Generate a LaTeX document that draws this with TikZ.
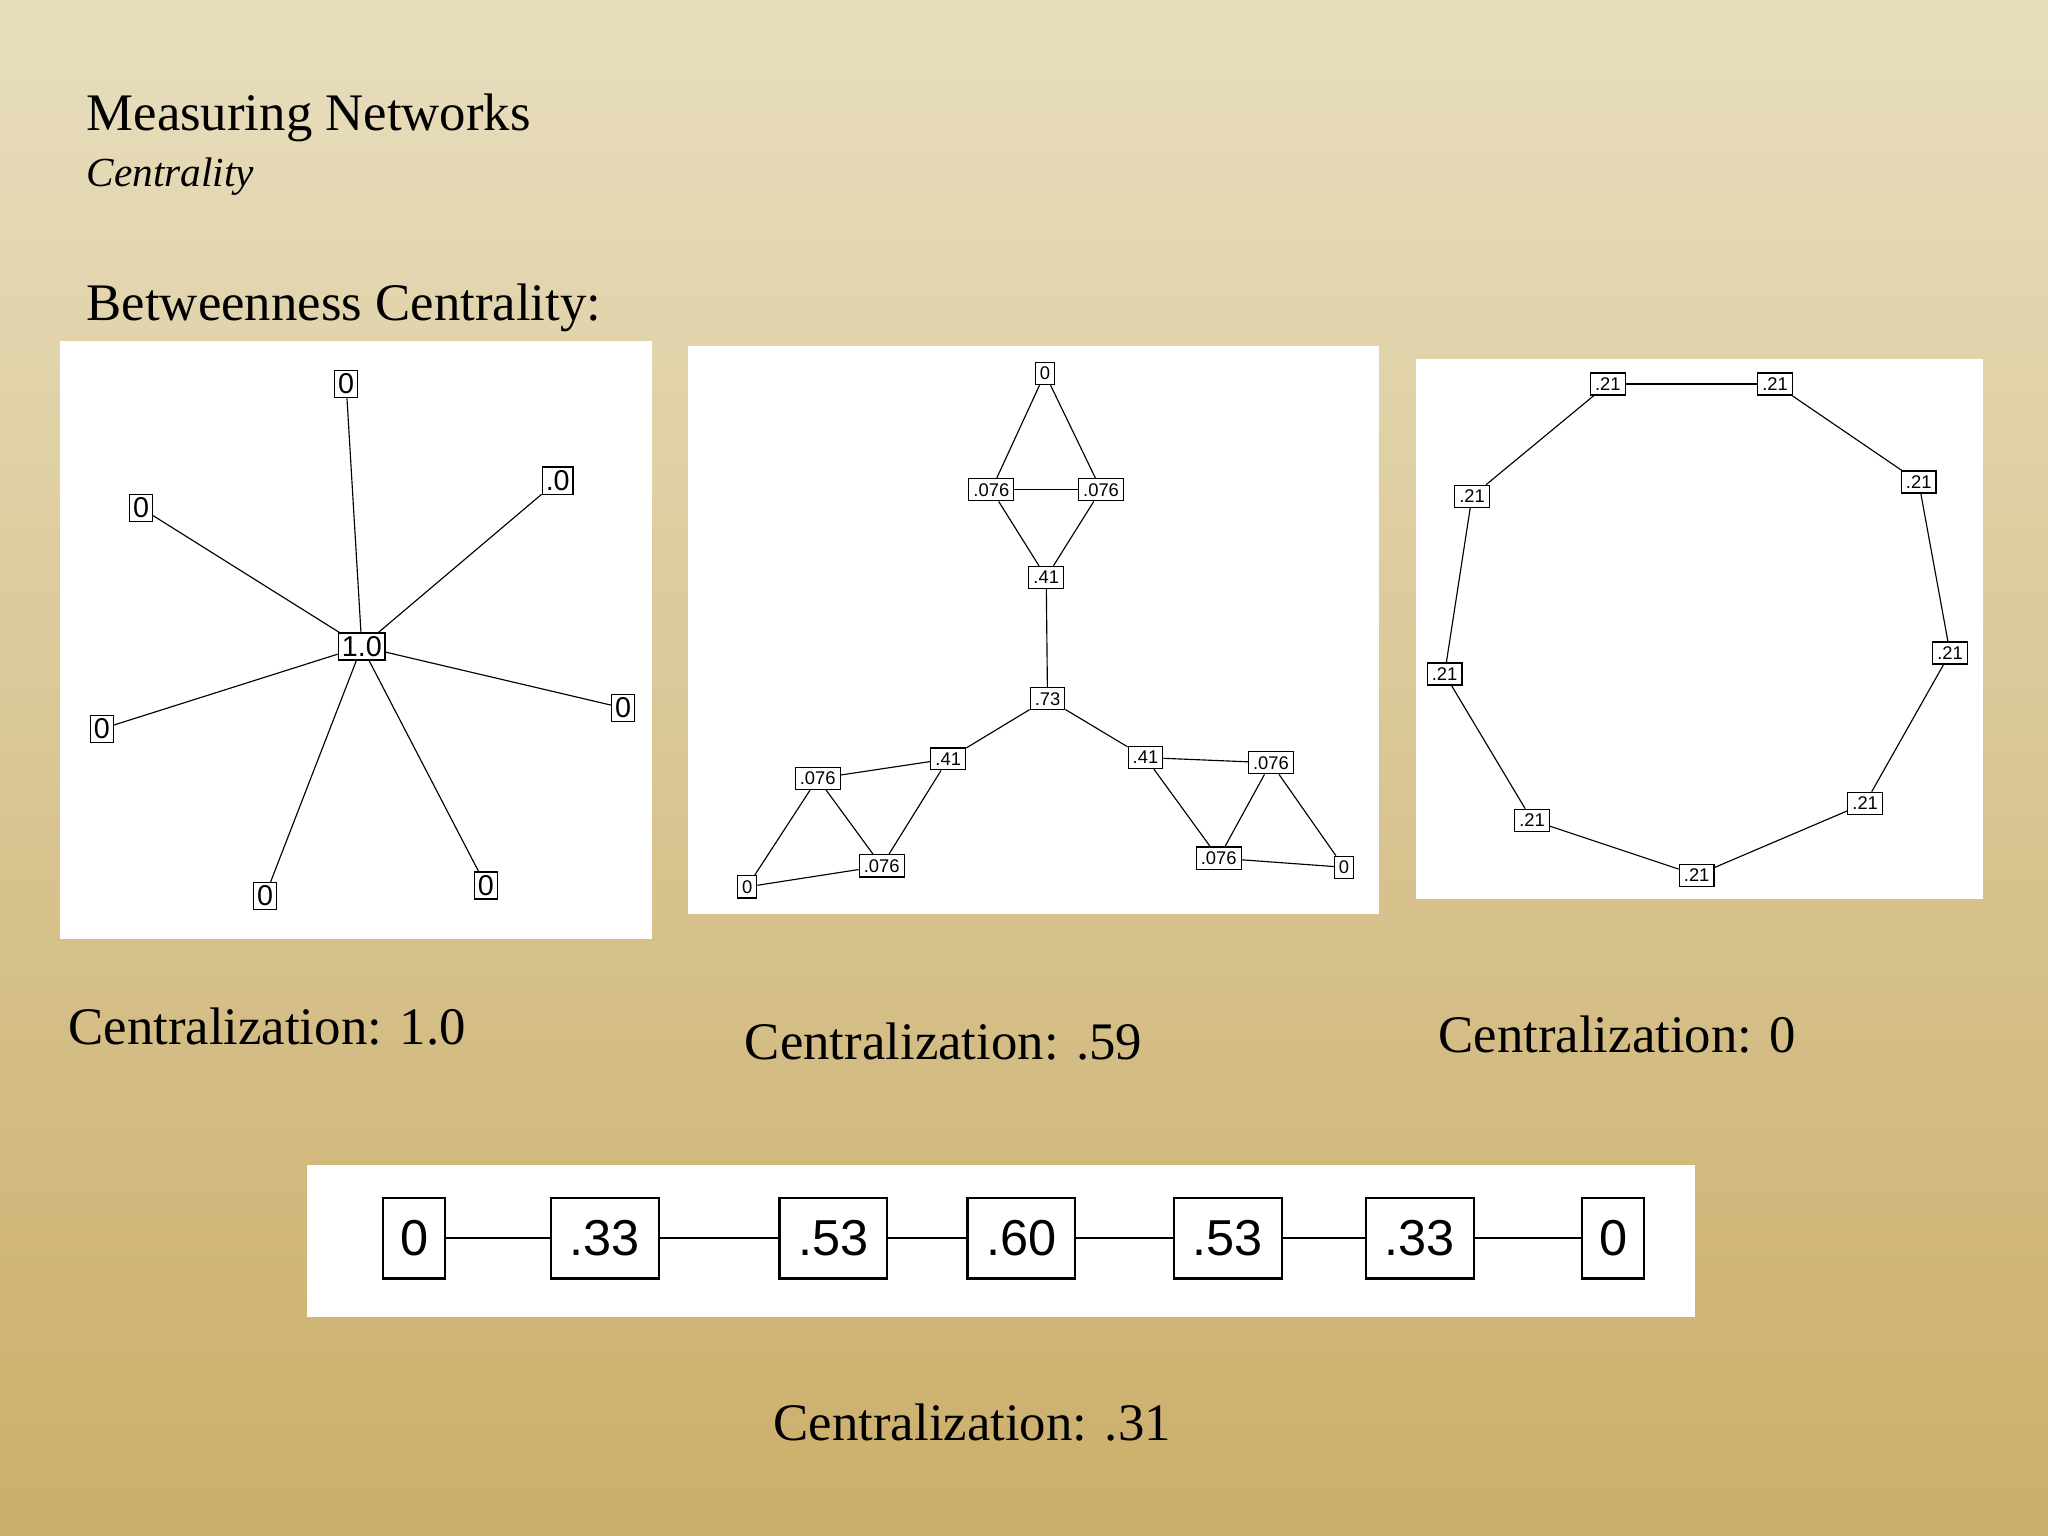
\documentclass[tikz,border=0pt]{standalone}
\usepackage{fontspec}
\setmainfont{Liberation Serif}
\newfontfamily\nodefont{Liberation Sans}
\begin{document}
\begin{tikzpicture}[x=0.02cm,y=-0.02cm,
  panel/.style={fill=white,draw=none},
  s/.style={draw,fill=white,inner sep=1.5pt,font=\nodefont\fontsize{12.5}{13}\selectfont,line width=0.6pt},
  m/.style={draw,fill=white,inner sep=2pt,font=\nodefont\fontsize{8}{9}\selectfont,line width=0.5pt},
  b/.style={draw,fill=white,minimum height=35pt,inner sep=3pt,font=\nodefont\fontsize{22}{24}\selectfont,line width=1pt},
  e/.style={line width=0.5pt},
  big/.style={font=\fontsize{23}{26}\selectfont,anchor=base west,inner sep=0pt}]
\shade[top color={rgb,255:red,232;green,222;blue,190},bottom color={rgb,255:red,203;green,174;blue,106}] (0,0) rectangle (1568,1176);
\useasboundingbox (0,0) rectangle (1568,1176);
\node[big] at (66,100) {Measuring Networks};
\node[big,font=\itshape\fontsize{18}{20}\selectfont] at (66,143) {Centrality};
\node[big] at (66,245) {Betweenness Centrality:};
\node[big] at (52,800) {Centralization: 1.0};
\node[big] at (570,811) {Centralization: .59};
\node[big] at (1101,806) {Centralization: 0};
\node[big] at (592,1103) {Centralization: .31};
% star
\fill[panel] (46,261) rectangle (499,719);
\node[s] (c) at (277,495) {1.0};
\foreach \n/\x/\y/\t in {a/265/294/0,b/108/389/0,d/427/368/.0,f/78/558/0,g/477/542/0,h/203/686/0,i/372/678/0}{
  \node[s] (\n) at (\x,\y) {\t};
  \draw[e] (c) -- (\n);}
% panel 2
\fill[panel] (527,265) rectangle (1056,700);
\node[m] (t0) at (800,286) {0};
\node[m] (tl) at (759,375) {.076};
\node[m] (tr) at (843,375) {.076};
\node[m] (t4) at (801,442) {.41};
\node[m] (cc) at (802,535) {.73};
\node[m] (l4) at (726,581) {.41};
\node[m] (la) at (626,596) {.076};
\node[m] (lb) at (675,663) {.076};
\node[m] (l0) at (572,679) {0};
\node[m] (r4) at (877,580) {.41};
\node[m] (ra) at (973,584) {.076};
\node[m] (rb) at (933,657) {.076};
\node[m] (r0) at (1029,664) {0};
\foreach \p/\q in {t0/tl,t0/tr,tl/tr,tl/t4,tr/t4,t4/cc,cc/l4,cc/r4,l4/la,l4/lb,la/lb,la/l0,lb/l0,r4/ra,r4/rb,ra/rb,ra/r0,rb/r0}
  \draw[e] (\p) -- (\q);
% ring
\fill[panel] (1084,275) rectangle (1518,688);
\foreach \n/\x/\y in {1/1231/294,2/1359/294,3/1469/369,4/1493/500,5/1428/615,6/1299/670,7/1173/628,8/1106/516,9/1127/380}
  \node[m] (q\n) at (\x,\y) {.21};
\foreach \p/\q in {1/2,2/3,3/4,4/5,5/6,6/7,7/8,8/9,9/1}
  \draw[e] (q\p) -- (q\q);
% chain
\fill[panel] (235,892) rectangle (1298,1008);
\node[b,minimum width=27pt] (k1) at (317,948) {0};
\node[b,minimum width=47pt] (k2) at (463,948) {.33};
\node[b,minimum width=47pt] (k3) at (638,948) {.53};
\node[b,minimum width=47pt] (k4) at (782,948) {.60};
\node[b,minimum width=47pt] (k5) at (940,948) {.53};
\node[b,minimum width=47pt] (k6) at (1087,948) {.33};
\node[b,minimum width=27pt] (k7) at (1235,948) {0};
\foreach \p/\q in {1/2,2/3,3/4,4/5,5/6,6/7}
  \draw[line width=1pt] (k\p) -- (k\q);
\end{tikzpicture}
\end{document}
